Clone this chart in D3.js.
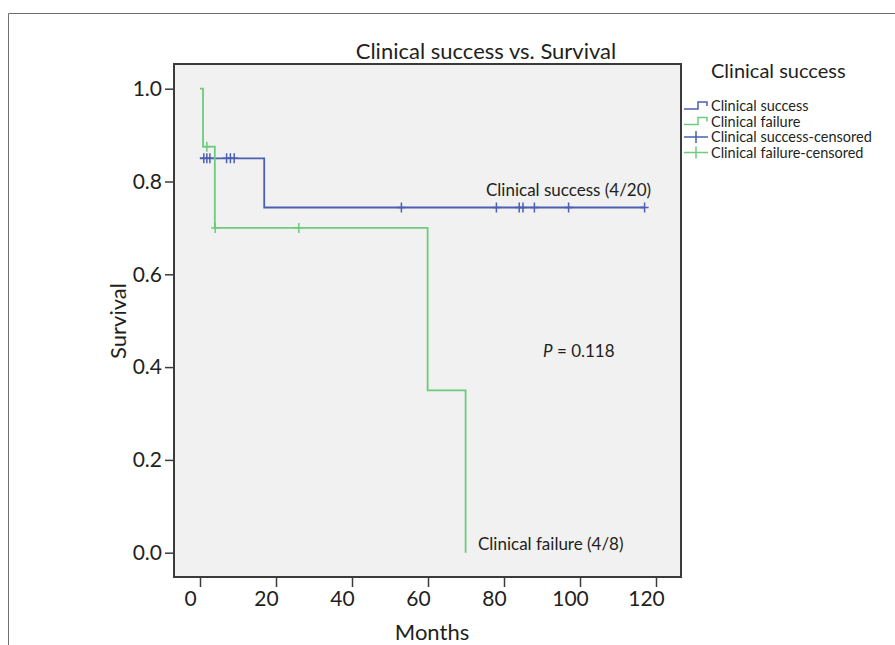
<!DOCTYPE html>
<html>
<head>
<meta charset="utf-8">
<script src="https://cdn.jsdelivr.net/npm/d3@7"></script>
<style>
  body { margin: 0; background: #fff; }
  text { font-family: "Lato", "Open Sans", sans-serif; fill: #231f20; }
</style>
</head>
<body>
<script>
// chart data
const xTicks = [0, 20, 40, 60, 80, 100, 120];
const yTicks = [0, 0.2, 0.4, 0.6, 0.8, 1.0];

// step curves: survival after each time point
const successTimes = [0, 16.9, 117];
const successSurv  = [0.85, 0.744, 0.744];
const failureTimes = [0, 0.8, 3.9, 59.9, 69.9];
const failureSurv  = [1.0, 0.875, 0.70, 0.35, 0.0];

// censored times
const successCensored = [1.0, 1.8, 2.6, 7.0, 8.0, 9.0, 53, 78, 84, 85, 88, 97, 117];
const failureCensored = [1.8, 4.0, 26];

const legendLabels = ["Clinical success", "Clinical failure",
                      "Clinical success-censored", "Clinical failure-censored"];

const blue = "#4c5fb1", green = "#6ccb7c";

let W = 895, H = 645;
let plot = {left: 174, top: 64, right: 681, bottom: 577};

let svg = d3.select("body").append("svg")
    .attr("width", W)
    .attr("height", H);

// outer frame
svg.append("path")
    .attr("d", "M8.5," + H + "V13.5H" + W)
    .attr("fill", "none")
    .attr("stroke", "#6d6e71")
    .attr("stroke-width", 1);

let x = d3.scaleLinear().domain([0, 120]).range([200, 656]);
let y = d3.scaleLinear().domain([0, 1]).range([552.7, 88.7]);

// plot background + border
svg.append("rect")
    .attr("x", plot.left)
    .attr("y", plot.top)
    .attr("width", plot.right - plot.left)
    .attr("height", plot.bottom - plot.top)
    .attr("fill", "#f0f1f0")
    .attr("stroke", "#3b3b3b")
    .attr("stroke-width", 2);

// axes
let xAxis = d3.axisBottom(x).tickValues(xTicks).tickSize(9).tickPadding(4)
    .tickFormat(d3.format("d"));
let yAxis = d3.axisLeft(y).tickValues(yTicks).tickSize(8).tickPadding(3)
    .tickFormat(d3.format(".1f"));

let gx = svg.append("g")
    .attr("transform", "translate(0," + (plot.bottom + 1) + ")")
    .call(xAxis);
gx.select(".domain").remove();
gx.selectAll("line").attr("stroke", "#3b3b3b").attr("stroke-width", 1.5);
gx.selectAll("text")
    .attr("font-size", 21)
    .attr("font-family", "Lato, 'Open Sans', sans-serif")
    .attr("fill", "#231f20")
    .attr("dx", -10);

let gy = svg.append("g")
    .attr("transform", "translate(" + (plot.left - 1) + ",0)")
    .call(yAxis);
gy.select(".domain").remove();
gy.selectAll("line").attr("stroke", "#3b3b3b").attr("stroke-width", 1.5);
gy.selectAll("text")
    .attr("font-size", 21)
    .attr("font-family", "Lato, 'Open Sans', sans-serif")
    .attr("fill", "#231f20");

// curves
let line = d3.line()
    .curve(d3.curveStepAfter)
    .x(d => x(d[0]))
    .y(d => y(d[1]));

function survAt(times, surv, t) {
  let s = surv[0];
  for (let i in times) {
    if (times[i] <= t) s = surv[i];
  }
  return s;
}

let curves = [
  {times: successTimes, surv: successSurv, cens: successCensored, color: blue},
  {times: failureTimes, surv: failureSurv, cens: failureCensored, color: green}
];

curves.forEach(c => {
  svg.append("path")
      .datum(d3.zip(c.times, c.surv))
      .attr("d", line)
      .attr("fill", "none")
      .attr("stroke", c.color)
      .attr("stroke-width", 1.8);

  svg.append("g").selectAll("path")
      .data(c.cens)
      .join("path")
      .attr("d", t => {
        let px = x(t), py = y(survAt(c.times, c.surv, t));
        return "M" + px + "," + (py - 5) + "V" + (py + 5) +
               "M" + (px - 4) + "," + py + "H" + (px + 4);
      })
      .attr("stroke", c.color)
      .attr("stroke-width", 1.5);
});

// annotations
svg.append("text")
    .attr("x", 486).attr("y", 196)
    .attr("font-size", 17)
    .text("Clinical success (4/20)");

svg.append("text")
    .attr("x", 478).attr("y", 550)
    .attr("font-size", 17)
    .text("Clinical failure (4/8)");

let p = svg.append("text")
    .attr("x", 543).attr("y", 357)
    .attr("font-size", 17);
p.append("tspan").attr("font-style", "italic").text("P");
p.append("tspan").text(" = 0.118");

// titles
svg.append("text")
    .attr("x", 486).attr("y", 59)
    .attr("text-anchor", "middle")
    .attr("font-size", 22)
    .text("Clinical success vs. Survival");

svg.append("text")
    .attr("x", 432).attr("y", 640)
    .attr("text-anchor", "middle")
    .attr("font-size", 22)
    .text("Months");

svg.append("text")
    .attr("transform", "translate(126,321) rotate(-90)")
    .attr("text-anchor", "middle")
    .attr("font-size", 22)
    .text("Survival");

// legend
let lx = 684, ly = 106;
svg.append("text")
    .attr("x", 711).attr("y", 78)
    .attr("font-size", 20)
    .text("Clinical success");

let legend = svg.append("g").selectAll("g")
    .data(legendLabels)
    .join("g")
    .attr("transform", (d, i) => "translate(" + lx + "," + (ly + i * 15.5) + ")");

legend.append("path")
    .attr("d", (d, i) => i < 2
        ? "M0,3H14V-4H23V0"
        : "M0,0H24M12,-6V6")
    .attr("fill", "none")
    .attr("stroke", (d, i) => i % 2 === 0 ? blue : green)
    .attr("stroke-width", 1.5);

legend.append("text")
    .attr("x", 27)
    .attr("y", 5)
    .attr("font-size", 14.5)
    .text(d => d);
</script>
</body>
</html>
